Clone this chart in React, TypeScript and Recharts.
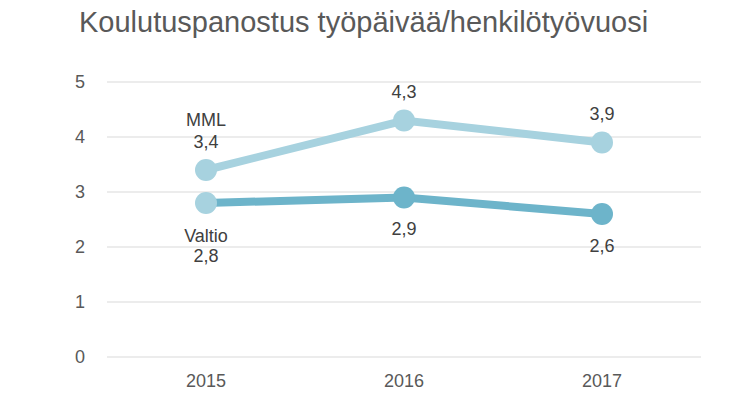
import React from "react";
import { LineChart, Line, XAxis, YAxis, CartesianGrid, LabelList } from "recharts";

const years = ["2015", "2016", "2017"];
const mmlValues = [3.4, 4.3, 3.9];
const valtioValues = [2.8, 2.9, 2.6];
const yTicks = [0, 1, 2, 3, 4, 5];
const seriesNames = ["MML", "Valtio"];
const title = "Koulutuspanostus työpäivää/henkilötyövuosi";

const data = years.map((y, i) => ({ year: y, mml: mmlValues[i], valtio: valtioValues[i] }));

const MML_COLOR = "#a7d2df";
const VALTIO_COLOR = "#6db4ca";
const FONT = "'Liberation Sans', Arial, sans-serif";
const LABEL_SIZE = 18;
const fmt = (v: number) => v.toFixed(1).replace(".", ",");

const T = (p: { x: number; y: number; children: React.ReactNode }) => (
  <text x={p.x} y={p.y} textAnchor="middle" fontSize={LABEL_SIZE} fill="#404040" fontFamily={FONT}>
    {p.children}
  </text>
);

const MmlLabel = (props: any) => {
  const { x, y, value, index } = props;
  return (
    <g>
      {index === 0 && <T x={x} y={y - 51 + 6.5}>{seriesNames[0]}</T>}
      <T x={x} y={y - 29 + 6.5}>{fmt(value)}</T>
    </g>
  );
};

const ValtioLabel = (props: any) => {
  const { x, y, value, index } = props;
  if (index === 0) {
    return (
      <g>
        <T x={x} y={y + 32 + 6.5}>{seriesNames[1]}</T>
        <T x={x} y={y + 52 + 6.5}>{fmt(value)}</T>
      </g>
    );
  }
  return <T x={x} y={y + 31 + 6.5}>{fmt(value)}</T>;
};

const ValtioDot = (props: any) => {
  const { cx, cy, index } = props;
  return <circle key={index} cx={cx} cy={cy} r={11} fill={index === 0 ? MML_COLOR : VALTIO_COLOR} stroke="none" />;
};

const MmlDot = (props: any) => {
  const { cx, cy, index } = props;
  return <circle key={index} cx={cx} cy={cy} r={11} fill={MML_COLOR} stroke="none" />;
};

export default function App() {
  return (
    <div style={{ position: "absolute", left: 0, top: 0, width: 736, height: 402, background: "#fff" }}>
      <LineChart width={736} height={402} data={data} margin={{ top: 82, right: 35, bottom: 15, left: 0 }}>
        <CartesianGrid vertical={false} stroke="#d9d9d9" strokeWidth={1} />
        <XAxis
          dataKey="year"
          axisLine={false}
          tickLine={false}
          padding={{ left: 99, right: 99 }}
          tick={{ fill: "#595959", fontSize: LABEL_SIZE, fontFamily: FONT }}
          tickMargin={11}
          height={30}
        />
        <YAxis
          width={107}
          domain={[0, 5]}
          ticks={yTicks}
          axisLine={false}
          tickLine={false}
          tick={{ fill: "#595959", fontSize: LABEL_SIZE, fontFamily: FONT }}
          tickMargin={16}
        />
        <Line
          dataKey="mml"
          stroke={MML_COLOR}
          strokeWidth={8}
          dot={<MmlDot />}
          activeDot={false}
          isAnimationActive={false}
        >
          <LabelList dataKey="mml" content={<MmlLabel />} />
        </Line>
        <Line
          dataKey="valtio"
          stroke={VALTIO_COLOR}
          strokeWidth={8}
          dot={<ValtioDot />}
          activeDot={false}
          isAnimationActive={false}
        >
          <LabelList dataKey="valtio" content={<ValtioLabel />} />
        </Line>
      </LineChart>
      <svg width={736} height={50} style={{ position: "absolute", left: 0, top: 0, pointerEvents: "none" }}>
        <text x={79} y={32} fontSize={29} fill="#595959" fontFamily={FONT}>
          {title}
        </text>
      </svg>
    </div>
  );
}
